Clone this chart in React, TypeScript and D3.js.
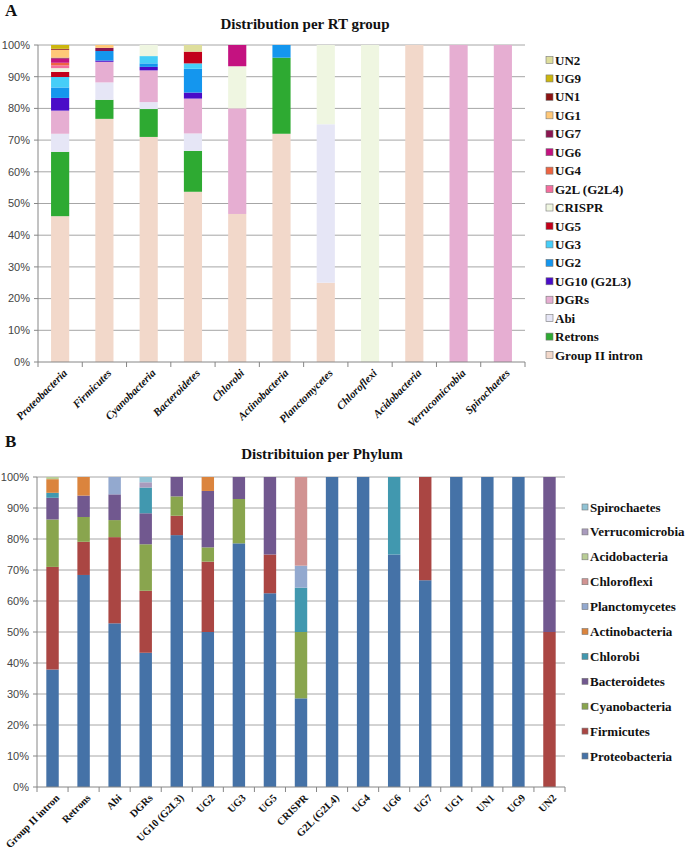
import React from "react";
import * as d3 from "d3";

// ---------- Panel A data ----------
const phylaA = ["Proteobacteria","Firmicutes","Cyanobacteria","Bacteroidetes","Chlorobi","Actinobacteria","Planctomycetes","Chloroflexi","Acidobacteria","Verrucomicrobia","Spirochaetes"];
const rtGroups = ["Group II intron","Retrons","Abi","DGRs","UG10 (G2L3)","UG2","UG3","UG5","CRISPR","G2L (G2L4)","UG4","UG6","UG7","UG1","UN1","UG9","UN2"];
const rtColors = ["#F2D8CA","#2EAA32","#E6E6F6","#E6AED2","#4A0CC8","#1496EE","#46CEF8","#C2001A","#EFF6E1","#F46E9E","#EE6442","#C41280","#8A1650","#FFC878","#8C1212","#CCB60E","#DEDE9C"];
// values per phylum, in rtGroups order (percent)
const aProteobacteria = [46,20.3,5.7,7.3,4,3.3,3.3,1.6,1.2,0.9,0.8,1.3,0.3,2.5,0.3,1.2,0];
const aFirmicutes = [76.7,6,5.5,6.5,0.4,3,0,0,0,0,0,0,1,0.9,0,0,0];
const aCyanobacteria = [71,8.8,2.2,10,1.1,1.1,2.3,0,3.5,0,0,0,0,0,0,0,0];
const aBacteroidetes = [53.7,12.9,5.5,11,1.9,7.5,1.7,3.7,0,0,0,0,0,0,0,0,2.1];
const aChlorobi = [46.7,0,0,33.3,0,0,0,0,13.3,0,0,6.7,0,0,0,0,0];
const aActinobacteria = [72,24,0,0,0,4,0,0,0,0,0,0,0,0,0,0,0];
const aPlanctomycetes = [25,0,50,0,0,0,0,0,25,0,0,0,0,0,0,0,0];
const aChloroflexi = [0,0,0,0,0,0,0,0,100,0,0,0,0,0,0,0,0];
const aAcidobacteria = [100,0,0,0,0,0,0,0,0,0,0,0,0,0,0,0,0];
const aVerrucomicrobia = [0,0,0,100,0,0,0,0,0,0,0,0,0,0,0,0,0];
const aSpirochaetes = [0,0,0,100,0,0,0,0,0,0,0,0,0,0,0,0,0];
const valuesA = [aProteobacteria,aFirmicutes,aCyanobacteria,aBacteroidetes,aChlorobi,aActinobacteria,aPlanctomycetes,aChloroflexi,aAcidobacteria,aVerrucomicrobia,aSpirochaetes];

// ---------- Panel B data ----------
const groupsB = ["Group II intron","Retrons","Abi","DGRs","UG10 (G2L3)","UG2","UG3","UG5","CRISPR","G2L (G2L4)","UG4","UG6","UG7","UG1","UN1","UG9","UN2"];
const phylaB = ["Proteobacteria","Firmicutes","Cyanobacteria","Bacteroidetes","Chlorobi","Actinobacteria","Planctomycetes","Chloroflexi","Acidobacteria","Verrucomicrobia","Spirochaetes"];
const phylaColors = ["#4572A7","#AA4643","#89A54E","#71588F","#4198AF","#DB843D","#93A9CF","#D19392","#B9CD96","#A99BBD","#91C3D5"];
// values per RT group, in phylaB order (percent)
const bGroupII = [37.9,33.1,15.3,7,1.6,4.4,0,0,0.7,0,0];
const bRetrons = [68.4,10.7,8,6.9,0,6,0,0,0,0,0];
const bAbi = [52.8,27.8,5.5,8.3,0,0,5.6,0,0,0,0];
const bDGRs = [43.3,20,15,10,8.3,0,0,0,0,1.7,1.7];
const bUG10 = [81.25,6.25,6.25,6.25,0,0,0,0,0,0,0];
const bUG2 = [50,22.7,4.6,18.2,0,4.5,0,0,0,0,0];
const bUG3 = [78.6,0,14.3,7.1,0,0,0,0,0,0,0];
const bUG5 = [62.5,12.5,0,25,0,0,0,0,0,0,0];
const bCRISPR = [28.6,0,21.4,0,14.3,0,7.1,28.6,0,0,0];
const bG2L = [100,0,0,0,0,0,0,0,0,0,0];
const bUG4 = [100,0,0,0,0,0,0,0,0,0,0];
const bUG6 = [75,0,0,0,25,0,0,0,0,0,0];
const bUG7 = [66.7,33.3,0,0,0,0,0,0,0,0,0];
const bUG1 = [100,0,0,0,0,0,0,0,0,0,0];
const bUN1 = [100,0,0,0,0,0,0,0,0,0,0];
const bUG9 = [100,0,0,0,0,0,0,0,0,0,0];
const bUN2 = [0,50,0,50,0,0,0,0,0,0,0];
const valuesB = [bGroupII,bRetrons,bAbi,bDGRs,bUG10,bUG2,bUG3,bUG5,bCRISPR,bG2L,bUG4,bUG6,bUG7,bUG1,bUN1,bUG9,bUN2];

const yTicks = [0,10,20,30,40,50,60,70,80,90,100];

const SERIF = "'Liberation Serif', 'Times New Roman', Times, serif";
const SANS = "'Liberation Sans', Arial, sans-serif";

type PanelProps = {
  cats: string[]; keys: string[]; colors: string[]; values: number[][];
  x0: number; x1: number; yTop: number; yBot: number; barFrac: number;
  italicLabels: boolean; labelFont: number; legendX: number; legendY0: number; legendStep: number; sq: number;
  legendFont: number;
};

function Panel(p: PanelProps) {
  const x = d3.scaleBand<string>().domain(p.cats).range([p.x0, p.x1]).paddingInner(0).paddingOuter(0);
  const y = d3.scaleLinear().domain([0, 100]).range([p.yBot, p.yTop]);
  const rows = p.cats.map((c, i) => {
    const o: any = { cat: c };
    p.keys.forEach((k, j) => (o[k] = p.values[i][j]));
    return o;
  });
  const series = d3.stack<any>().keys(p.keys)(rows);
  const bw = x.bandwidth() * p.barFrac;
  const legendKeys = p.keys.map((k, i) => ({ k, c: p.colors[i] })).reverse();
  return (
    <g>
      {yTicks.map((t) => (
        <g key={t}>
          {t > 0 && <line x1={p.x0} x2={p.x1} y1={y(t)} y2={y(t)} stroke="#A6A6A6" strokeWidth={1} />}
          <line x1={p.x0 - 4} x2={p.x0} y1={y(t)} y2={y(t)} stroke="#868686" />
          <text x={p.x0 - 8} y={y(t)} dy="0.35em" textAnchor="end" fontFamily={SANS} fontSize={11} fill="#444">{t}%</text>
        </g>
      ))}
      <line x1={p.x0} x2={p.x0} y1={p.yTop} y2={p.yBot} stroke="#868686" />
      {series.map((s, si) => (
        <g key={si} fill={p.colors[si]}>
          {s.map((d, di) => {
            const h = y(d[0]) - y(d[1]);
            if (h <= 0) return null;
            return <rect key={di} x={(x(p.cats[di]) as number) + (x.bandwidth() - bw) / 2} y={y(d[1])} width={bw} height={h} />;
          })}
        </g>
      ))}
      <line x1={p.x0} x2={p.x1} y1={p.yBot} y2={p.yBot} stroke="#868686" />
      {p.cats.map((c, i) => (
        <line key={"t" + i} x1={(x(c) as number)} x2={(x(c) as number)} y1={p.yBot} y2={p.yBot + 5} stroke="#868686" />
      ))}
      <line x1={p.x1} x2={p.x1} y1={p.yBot} y2={p.yBot + 5} stroke="#868686" />
      {p.cats.map((c, i) => {
        const cx = (x(c) as number) + x.bandwidth() / 2 + 5;
        const cy = p.yBot + 9;
        return (
          <text key={"l" + i} transform={`translate(${cx},${cy}) rotate(-45)`} textAnchor="end" dy="0.35em"
            fontFamily={SERIF} fontWeight="bold" fontStyle={p.italicLabels ? "italic" : "normal"} fontSize={p.labelFont} fill="#111">{c}</text>
        );
      })}
      {legendKeys.map((l, i) => {
        const ly = p.legendY0 + i * p.legendStep;
        return (
          <g key={"lg" + i}>
            <rect x={p.legendX} y={ly - p.sq / 2} width={p.sq} height={p.sq} fill={l.c} stroke="#777" strokeWidth={0.6} />
            <text x={p.legendX + p.sq + 2} y={ly} dy="0.35em" fontFamily={SERIF} fontWeight="bold" fontSize={p.legendFont} fill="#111">{l.k}</text>
          </g>
        );
      })}
    </g>
  );
}

export default function App() {
  return (
    <svg width={689} height={849} style={{ position: "absolute", left: 0, top: 0, background: "#fff" }}>
      <rect width={689} height={849} fill="#fff" />
      <text x={5} y={16} fontFamily={SERIF} fontWeight="bold" fontSize={17} fill="#111">A</text>
      <text x={305} y={29} textAnchor="middle" fontFamily={SERIF} fontWeight="bold" fontSize={15} fill="#111">Distribution per RT group</text>
      <Panel cats={phylaA} keys={rtGroups} colors={rtColors} values={valuesA}
        x0={38} x1={525} yTop={45} yBot={362} barFrac={0.41} italicLabels={true} labelFont={11}
        legendX={546} legendY0={60} legendStep={18.44} sq={7} legendFont={13} />
      <text x={5} y={447} fontFamily={SERIF} fontWeight="bold" fontSize={17} fill="#111">B</text>
      <text x={322} y={459} textAnchor="middle" fontFamily={SERIF} fontWeight="bold" fontSize={15} fill="#111">Distribituion per Phylum</text>
      <Panel cats={groupsB} keys={phylaB} colors={phylaColors} values={valuesB}
        x0={37} x1={565} yTop={477} yBot={787} barFrac={0.4} italicLabels={false} labelFont={10.5}
        legendX={582} legendY0={507} legendStep={24.9} sq={6} legendFont={13} />
    </svg>
  );
}
